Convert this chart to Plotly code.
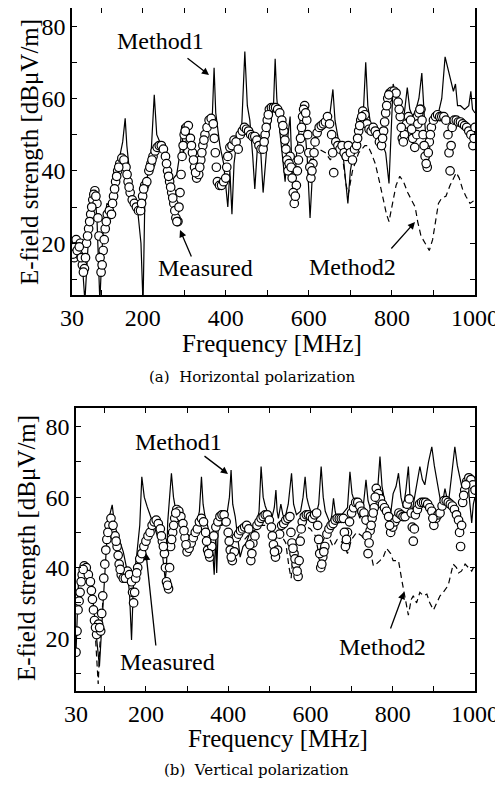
import plotly.graph_objects as go

W, H = 503, 785
OFF = 8  # default page body margin

# ---------------- (a) Horizontal polarization ----------------
meas_freq_h = list(range(30, 1001, 5))
meas_val_h = [
    19, 16, 21, 17, 20, 14, 13, 20, 24, 28,
    32, 34.5, 31, 22, 12, 18, 24, 28, 29, 28,
    33, 37, 40, 42, 43.5, 43, 41, 37, 34, 32,
    31, 30, 29, 29, 33, 36, 37, 40, 42, 44,
    45.5, 46.5, 47, 47, 46, 44, 40, 37, 34, 31,
    27, 26, 34, 44, 50, 52, 52.5, 49, 45, 41,
    38, 39, 43, 47, 50, 52, 54, 54.5, 53, 45,
    37, 36, 36, 37, 38, 44, 46.5, 47, 48.5, 48,
    46, 50, 51, 52, 51.5, 51, 50, 49.5, 49.5, 48.5,
    47, 46, 46, 50, 54, 57, 57.5, 57.5, 57.5, 57,
    56, 54, 51, 46, 40, 44, 38, 31, 36, 43,
    49, 55, 58, 54, 45, 38, 42, 48, 50.5, 52,
    52.5, 53, 53.5, 55, 53, 50, 39.5, 48, 47, 46,
    47, 45, 44, 47, 45, 43, 46, 47, 51, 54,
    56.5, 55.5, 53, 51.5, 51, 52, 51, 50, 48, 47,
    51, 56, 60, 61.5, 62, 62, 61.5, 59, 55, 49,
    50, 53, 55, 54, 49, 46.5, 50, 56, 57, 50,
    44, 41, 48, 52, 54, 55, 55.5, 55, 55, 55,
    54, 50, 40, 52, 54, 54, 53.5, 53.5, 53, 52.5,
    52, 51, 50, 47, 52,
]
# additional circles read between the 5 MHz grid (steep parts)
meas_freq_h2 = [32.5, 37.5, 42.5, 47.5, 52.5, 57.5, 62.5, 67.5, 72.5, 77.5, 82.5, 87.5, 92.5,
                97.5, 102.5, 107.5, 112.5, 127.5, 132.5, 137.5, 142.5, 162.5, 167.5, 197.5,
                202.5, 217.5, 222.5, 257.5, 262.5, 267.5, 272.5, 277.5, 282.5, 287.5, 292.5,
                297.5, 302.5, 317.5, 322.5, 327.5, 337.5, 342.5, 347.5, 372.5, 377.5, 402.5,
                492.5, 497.5, 502.5, 537.5, 542.5, 547.5, 552.5, 557.5, 562.5, 567.5, 572.5,
                577.5, 582.5, 587.5, 592.5, 597.5, 602.5, 607.5, 612.5, 657.5, 717.5, 722.5,
                727.5, 777.5, 782.5, 787.5, 792.5, 817.5, 822.5, 827.5, 847.5, 862.5, 867.5,
                872.5, 877.5, 882.5, 887.5, 892.5, 937.5, 942.5, 997.5]
meas_val_h2 = [17, 19, 18, 19, 16, 12, 16, 22, 26, 30, 33.5, 33, 27,
               16, 14, 21, 26, 31, 35, 38.5, 41, 39, 35.5, 31,
               35, 41, 43, 42, 38.5, 35.5, 32.5, 29, 26, 30, 39,
               47, 51, 47, 43, 39.5, 41, 45, 48.5, 49, 41, 41,
               48, 52, 55.5, 52.5, 48.5, 43, 42, 41, 34, 33, 40,
               46, 52, 57, 56, 50, 41, 40, 45, 45, 49, 52.5,
               55, 49, 53.5, 58, 61, 57, 52, 48, 51.5, 53, 57,
               54, 47, 42, 45, 50, 45, 47, 49]

m1_freq_h = [30, 45, 55, 61, 70, 84, 90, 97, 104, 114, 125, 133, 145, 152, 158, 162, 170, 180,
             189, 196, 201, 205, 210, 220, 228, 234, 245, 255, 268, 282, 290, 294, 298, 310,
             320, 330, 340, 360, 368, 372, 376, 386, 395, 405, 410, 415, 420, 427, 438, 446,
             452, 458, 465, 470, 476, 482, 486, 490, 500, 510, 515, 519, 523, 531, 537, 543,
             550, 555, 559, 564, 570, 580, 586, 590, 596, 603, 608, 613, 625, 640, 650, 658,
             663, 672, 682, 690, 694, 700, 712, 725, 732, 737, 742, 750, 760, 775, 785, 793,
             798, 803, 810, 819, 825, 830, 837, 843, 850, 858, 865, 872, 878, 883, 887, 892,
             900, 910, 920, 928, 935, 943, 948, 953, 958, 965, 975, 985, 990, 994, 1000]
m1_val_h = [17, 20, 14, 4, 22, 35, 27, 4, 22, 31, 30, 41, 44, 48, 54.5, 47, 38, 32,
            28, 20, 3, 30, 37.5, 44, 61, 50, 47, 42, 37, 39, 45, 52.5, 45, 51,
            48, 43, 45, 52, 56, 68.5, 56, 47, 42, 30, 40, 28, 42, 48.5, 51, 73,
            58, 54, 44, 35, 46, 50, 42, 34, 48, 54, 58, 71, 60, 50, 44, 37,
            50, 55, 42, 30, 44, 55, 58, 52, 44, 27, 40, 48.5, 51, 52, 55, 62.5,
            54, 48, 45, 36, 31, 40, 48, 55, 58, 70, 58, 52, 51, 48, 45, 36.5,
            50, 64, 61, 58, 54, 56, 63, 57, 55, 57, 60, 67, 55, 48, 41, 48,
            56, 55, 60, 71.5, 68, 64, 62, 64, 58, 58, 57, 58, 62, 57, 56]

m2_freq_h = [600, 612, 625, 640, 652, 660, 672, 682, 690, 695, 705, 720, 735, 742, 750, 760,
             770, 780, 787, 793, 800, 810, 819, 828, 838, 848, 856, 862, 870, 880, 890, 898,
             906, 912, 920, 930, 940, 948, 955, 962, 970, 978, 988, 1000]
m2_val_h = [42, 45, 46, 45, 43, 45, 47, 43, 36, 33.5, 40, 45, 47, 47, 45, 42,
            37, 32, 28, 26, 30, 36, 38.5, 37, 34, 32, 30, 26, 22, 20, 18, 21,
            27, 31, 32.5, 33, 36, 38, 39.5, 38, 35, 33, 31, 32]

# ---------------- (b) Vertical polarization ----------------
meas_freq_v = list(range(30, 1001, 5))
meas_val_v = [
    16, 28, 33, 38, 40.5, 40, 38, 36, 31, 25,
    21, 24, 22, 32, 41, 48, 52, 54, 52, 49,
    46, 41, 38, 37, 37, 39, 38, 36, 30, 37,
    40, 42.5, 44, 46, 47.5, 49, 50, 52, 53, 53.5,
    52.5, 51, 47.5, 44, 36, 34, 46, 50, 54, 56.5,
    56, 54.5, 52.5, 48.5, 44.5, 45.5, 47, 48.5, 50, 51,
    53, 54, 53, 50, 45, 43, 46, 49, 51.5, 53,
    54.5, 55, 55, 53, 50, 45, 42, 44.5, 48.5, 49.5,
    50.5, 51, 51.5, 52, 51, 42, 47, 49, 52, 53,
    54, 54.5, 55, 55, 53.5, 51.5, 46.5, 43, 45, 49.5,
    52, 52.5, 53.5, 54, 54.5, 47, 44, 41, 37.5, 47.5,
    53, 54.5, 55, 55, 54.5, 54, 55, 55.5, 48, 40,
    43, 46, 49.5, 51, 52, 52.5, 53.5, 54, 54, 54,
    54, 46, 50, 53, 55.5, 57, 58.5, 58.5, 57.5, 56,
    55.5, 53.5, 44, 50.5, 54, 57, 62.5, 61, 59.5, 58,
    57, 56, 54.5, 50, 51.5, 53, 54, 55.5, 55, 54.5,
    54.5, 58, 59.5, 55.5, 47.5, 55, 56.5, 58, 58.5, 58.5,
    58.5, 58, 57, 56, 52, 54, 55, 55.5, 57.5, 59,
    59, 58.5, 58, 57.5, 56.5, 55, 53.5, 46, 58.5, 62,
    64.5, 65.5, 65, 63.5, 62,
]
meas_freq_v2 = [32.5, 37.5, 42.5, 47.5, 67.5, 72.5, 77.5, 87.5, 92.5, 97.5, 102.5, 107.5,
                127.5, 132.5, 137.5, 167.5, 172.5, 177.5, 237.5, 242.5, 247.5, 252.5, 257.5,
                262.5, 267.5, 272.5, 292.5, 297.5, 347.5, 352.5, 402.5, 407.5, 452.5, 457.5,
                507.5, 512.5, 552.5, 557.5, 562.5, 567.5, 572.5, 577.5, 617.5, 622.5, 627.5,
                632.5, 682.5, 687.5, 737.5, 742.5, 747.5, 752.5, 757.5, 792.5, 847.5, 852.5,
                897.5, 962.5, 967.5, 972.5, 977.5]
meas_val_v2 = [22, 30.5, 36, 39.5, 33.5, 28, 23, 23, 27, 37, 45, 50,
               47.5, 43.5, 39.5, 33, 33, 38.5, 49, 46, 40, 35, 40,
               48, 52, 55.5, 50.5, 46.5, 47.5, 44, 47.5, 43, 46.5, 44,
               49, 44.5, 50, 45.5, 42.5, 39, 42, 51, 52, 44, 41,
               44.5, 50, 48, 49, 47, 52, 55.5, 60, 52, 51.5, 51,
               54, 50, 52, 60.5, 63.5]

m1_freq_v = [30, 33, 36, 45, 55, 62, 73, 80, 85, 87, 92, 97, 105, 112, 118, 124, 130, 145,
             154, 160, 165, 170, 178, 185, 190, 196, 203, 215, 228, 239, 247, 250, 253, 262,
             267, 271, 280, 289, 301, 313, 324, 330, 335, 339, 343, 353, 362, 366, 370, 372,
             376, 385, 398, 403, 407, 411, 417, 423, 429, 436, 444, 456, 468, 475, 480, 485,
             490, 498, 506, 512, 516, 519, 522, 528, 533, 538, 546, 554, 559, 566, 576, 582,
             587, 591, 595, 603, 611, 620, 626, 631, 636, 648, 652, 656, 660, 664, 676, 690,
             696, 701, 708, 720, 728, 735, 740, 745, 753, 762, 769, 774, 781, 793, 801, 808,
             814, 820, 826, 832, 838, 842, 846, 856, 866, 872, 878, 887, 895, 901, 907, 913,
             919, 927, 935, 943, 951, 957, 962, 967, 975, 983, 988, 992, 996, 1000]
m1_val_v = [16, 30, 36, 41.3, 41, 39, 29, 20, 14.8, 12, 22, 31, 48, 55, 57.8, 52, 49.8, 44.5,
            39.3, 33, 19.5, 36.5, 44, 52, 65.8, 60, 57.3, 53.5, 49, 45, 36.5, 40, 53, 66.8,
            60, 57.3, 53, 51, 49.5, 48, 52.7, 56, 65.8, 58, 55, 50.5, 45, 38, 50, 38.5,
            52, 52, 56, 60, 67.7, 58, 54.5, 48, 43, 46, 47, 51, 52, 56, 68.7, 60,
            57.5, 55, 54, 57, 62, 56, 54, 58, 55, 54, 58, 66.8, 58, 55, 56, 60,
            65.8, 60, 58, 55, 54, 58, 68.7, 60, 56, 52.5, 55, 59.7, 56, 54, 55, 57,
            67.2, 61, 58.5, 54, 57, 64.9, 59, 57, 54, 60, 71.5, 63, 58.5, 53.5, 61, 63,
            66.8, 60, 57, 62, 68.7, 60, 55, 62, 68.7, 65, 63.5, 70, 74.3, 69, 64.9, 60,
            57, 62.4, 58, 66, 74.3, 69, 66, 63.7, 59, 63.7, 58, 52.7, 58, 60]

m2_freq_v = [75, 80, 84, 88, 95, None,
             440, 455, 470, 480, 495, 505, 515, 525, 540, 548, 553, 558, 570, 585, 600, 612,
             620, 628, 640, 655, 665, 680, 690, 700, 712, 725, 735, 745, 753, 760, 769, 777,
             785, 795, 801, 814, 822, 830, 838, 845, 850, 858, 866, 875, 883, 890, 899, 907,
             915, 923, 935, 947, 955, 960, 967, 976, 985, 992, 1000]
m2_val_v = [25, 14, 7, 18, 30, None,
            48, 50, 51, 52, 52, 50, 48, 50, 47, 40, 37, 44, 49, 52, 51, 49,
            44, 47, 50, 46, 48, 47, 44, 48, 50, 49, 47, 45, 40.5, 41, 42, 43,
            45.5, 44, 42, 42, 36.5, 32, 26.5, 31, 32, 30, 33, 32, 32.5, 30, 28, 30,
            32, 33, 35, 41, 40, 38.5, 39, 41, 40, 39, 41]

x_tickvals = [30, 100, 200, 300, 400, 500, 600, 700, 800, 900, 1000]
x_ticktext = ["30", "", "200", "", "400", "", "600", "", "800", "", "1000"]
y_tickvals = [10, 20, 30, 40, 50, 60, 70, 80]
y_ticktext = ["", "20", "", "40", "", "60", "", "80"]

SERIF = "Liberation Serif"


def px(x):
    return min(1.0, max(0.0, (x - OFF) / W))


def py(y):
    return min(1.0, max(0.0, 1 - (y - OFF) / H))


fig = go.Figure()

for (mf, mv, mf2, mv2, f1, v1, f2, v2, xa, ya) in [
    (meas_freq_h, meas_val_h, meas_freq_h2, meas_val_h2, m1_freq_h, m1_val_h, m2_freq_h, m2_val_h, "x", "y"),
    (meas_freq_v, meas_val_v, meas_freq_v2, meas_val_v2, m1_freq_v, m1_val_v, m2_freq_v, m2_val_v, "x2", "y2"),
]:
    fig.add_trace(go.Scatter(x=f2, y=v2, mode="lines", xaxis=xa, yaxis=ya,
                             line=dict(color="black", width=1.2, dash="6px,4px"),
                             connectgaps=False, showlegend=False))
    fig.add_trace(go.Scatter(x=f1, y=v1, mode="lines", xaxis=xa, yaxis=ya,
                             line=dict(color="black", width=1.2), showlegend=False))
    fig.add_trace(go.Scatter(x=list(mf) + list(mf2), y=list(mv) + list(mv2), mode="markers",
                             xaxis=xa, yaxis=ya,
                             marker=dict(symbol="circle", size=8.5, color="white",
                                         line=dict(color="black", width=1.2)),
                             showlegend=False))

axis_common = dict(showline=True, linecolor="black", linewidth=1.5, mirror="allticks",
                   ticks="inside", ticklen=5, tickwidth=1.2, tickcolor="black",
                   showgrid=False, zeroline=False,
                   tickfont=dict(family=SERIF, size=24, color="black"))

fig.update_layout(
    width=W, height=H,
    margin=dict(l=0, r=0, t=0, b=0, pad=0, autoexpand=False),
    paper_bgcolor="white", plot_bgcolor="white",
    xaxis=dict(domain=[px(72), px(475)], anchor="y", range=[30, 1000],
               tickvals=x_tickvals, ticktext=x_ticktext, **axis_common),
    yaxis=dict(domain=[py(295), py(8)], anchor="x", range=[5.7, 85.0],
               tickvals=y_tickvals, ticktext=y_ticktext, **axis_common),
    xaxis2=dict(domain=[px(76), px(475)], anchor="y2", range=[30, 1000],
                tickvals=x_tickvals, ticktext=x_ticktext, **axis_common),
    yaxis2=dict(domain=[py(691), py(408)], anchor="x2", range=[5.0, 85.3],
                tickvals=y_tickvals, ticktext=y_ticktext, **axis_common),
)

ann = []


def text(x, y, s, size=24, family=SERIF, angle=0):
    ann.append(dict(x=px(x), y=py(y), xref="paper", yref="paper", text=s,
                    showarrow=False, xanchor="center", yanchor="middle", textangle=angle,
                    font=dict(family=family, size=size, color="black")))


def arrow(tail, head):
    ann.append(dict(x=px(head[0]), y=py(head[1]), xref="paper", yref="paper", text="",
                    showarrow=True, ax=tail[0] - head[0], ay=tail[1] - head[1],
                    arrowhead=2, arrowsize=1.1, arrowwidth=1.3, arrowcolor="black"))


# panel (a)
text(160, 41, "Method1")
text(205, 268, "Measured")
text(352, 267, "Method2")
arrow((186, 57), (209, 75))
arrow((192, 258), (180, 230))
arrow((390, 250), (415, 222))
text(272, 343, "Frequency [MHz]", size=25)
text(30, 152, "E-field strength [dBμV/m]", size=25, angle=-90)
text(252, 377, "(a)  Horizontal polarization", size=15, family="DejaVu Serif")

# panel (b)
text(178, 442, "Method1")
text(167, 662, "Measured")
text(382, 647, "Method2")
arrow((203, 455), (228, 474))
arrow((156, 647), (146, 553))
arrow((390, 630), (404, 592))
text(278, 738, "Frequency [MHz]", size=25)
text(26, 548, "E-field strength [dBμV/m]", size=25, angle=-90)
text(256, 770, "(b)  Vertical polarization", size=15, family="DejaVu Serif")

fig.update_layout(annotations=ann)

fig.write_html("out.html")
